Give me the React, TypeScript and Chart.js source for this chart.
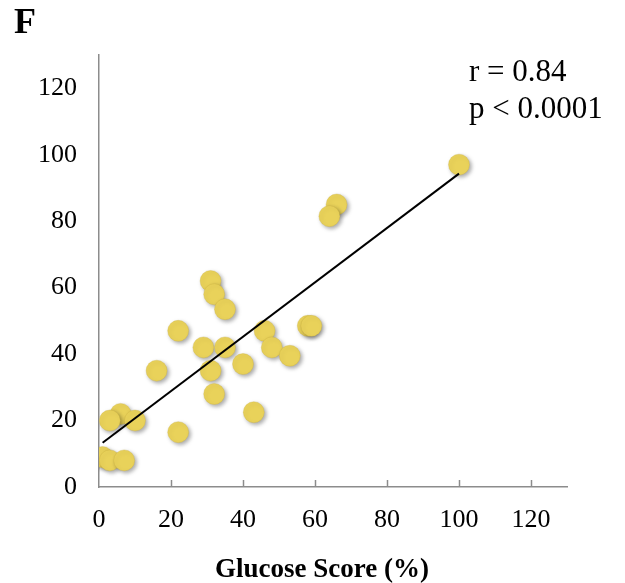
import React, { useEffect, useRef } from "react";
import { Chart, registerables } from "chart.js";

Chart.register(...registerables);

const glucoseScore = [31, 32, 35, 22, 29, 35, 46, 48, 53, 58, 59, 31, 40, 16, 32, 43, 22, 6, 3, 10, 1, 3, 7, 100, 66, 64];
const otherScore = [62, 58, 53.5, 47, 42, 42, 47, 42, 39.5, 48.5, 48.5, 35, 37, 35, 28, 22.5, 16.5, 22, 20, 20, 9, 8, 8, 97, 85, 81.5];
const fitX = [1, 100];
const fitY = [13.3, 94.3];
const tickValues = [0, 20, 40, 60, 80, 100, 120];
const xTitle = "Glucose Score (%)";
const panelLabel = "F";
const statLines = ["r = 0.84", "p < 0.0001"];

const POINT_COLOR = "#E9D25A";
const AXIS_COLOR = "#8c8c8c";
const SERIF = "'Liberation Serif', 'Times New Roman', serif";

const shadowPlugin = {
  id: "pointShadow",
  beforeDatasetDraw(chart: any, args: any) {
    if (args.index === 0) {
      const ctx = chart.ctx;
      ctx.save();
      ctx.shadowColor = "rgba(0,0,0,0.35)";
      ctx.shadowBlur = 4;
      ctx.shadowOffsetX = 2;
      ctx.shadowOffsetY = 2;
    }
  },
  afterDatasetDraw(chart: any, args: any) {
    if (args.index === 0) chart.ctx.restore();
  },
};

const decorPlugin = {
  id: "decor",
  afterDraw(chart: any) {
    const ctx = chart.ctx;
    const xs = chart.scales.x;
    const area = chart.chartArea;
    ctx.save();
    // x ticks pointing up into the plot
    ctx.strokeStyle = AXIS_COLOR;
    ctx.lineWidth = 1.5;
    xs.ticks.forEach((t: any, i: number) => {
      if (i === 0) return;
      const px = Math.round(xs.getPixelForValue(t.value)) + 0.5;
      ctx.beginPath();
      ctx.moveTo(px, area.bottom);
      ctx.lineTo(px, area.bottom - 7);
      ctx.stroke();
    });
    ctx.fillStyle = "#000";
    ctx.textBaseline = "alphabetic";
    ctx.textAlign = "left";
    ctx.font = `bold 36px ${SERIF}`;
    ctx.fillText(panelLabel, 14, 33);
    ctx.font = `31px ${SERIF}`;
    ctx.fillText(statLines[0], 469, 81);
    ctx.fillText(statLines[1], 469, 118);
    ctx.font = `bold 27px ${SERIF}`;
    ctx.textAlign = "center";
    ctx.fillText(xTitle, 322, 577);
    ctx.restore();
  },
};

export default function App() {
  const ref = useRef<HTMLCanvasElement>(null);
  useEffect(() => {
    document.body.style.margin = "0";
    const chart = new Chart(ref.current!, {
      type: "scatter",
      data: {
        datasets: [
          {
            type: "scatter",
            data: glucoseScore.map((x, i) => ({ x, y: otherScore[i] })),
            backgroundColor: POINT_COLOR,
            borderColor: "rgba(200,175,60,0.6)",
            borderWidth: 0.5,
            pointRadius: 10.5,
            order: 2,
          },
          {
            type: "line",
            data: fitX.map((x, i) => ({ x, y: fitY[i] })),
            borderColor: "#000",
            borderWidth: 2,
            pointRadius: 0,
            showLine: true,
            fill: false,
            order: 1,
          } as any,
        ],
      },
      options: {
        animation: false,
        responsive: false,
        layout: { padding: { top: 55, right: 58, left: 0, bottom: 0 } },
        plugins: { legend: { display: false }, tooltip: { enabled: false } },
        scales: {
          x: {
            type: "linear",
            min: 0,
            max: 130,
            afterBuildTicks: (s: any) => {
              s.ticks = tickValues.map((v) => ({ value: v }));
            },
            afterFit: (s: any) => {
              s.height = 96;
            },
            grid: { display: false, drawTicks: false },
            border: { display: true, color: AXIS_COLOR, width: 1.5 },
            ticks: { color: "#000", font: { family: SERIF, size: 26 }, padding: 18, maxRotation: 0 },
            title: { display: false },
          },
          y: {
            type: "linear",
            min: 0,
            max: 130,
            afterBuildTicks: (s: any) => {
              s.ticks = tickValues.map((v) => ({ value: v }));
            },
            afterFit: (s: any) => {
              s.width = 99;
            },
            grid: { display: false, drawTicks: false },
            border: { display: true, color: AXIS_COLOR, width: 1.5 },
            ticks: { color: "#000", font: { family: SERIF, size: 26 }, padding: 22 },
          },
        },
      },
      plugins: [shadowPlugin, decorPlugin],
    });
    return () => chart.destroy();
  }, []);
  return (
    <div style={{ width: 625, height: 583 }}>
      <canvas ref={ref} width={625} height={583} style={{ display: "block" }} />
    </div>
  );
}
